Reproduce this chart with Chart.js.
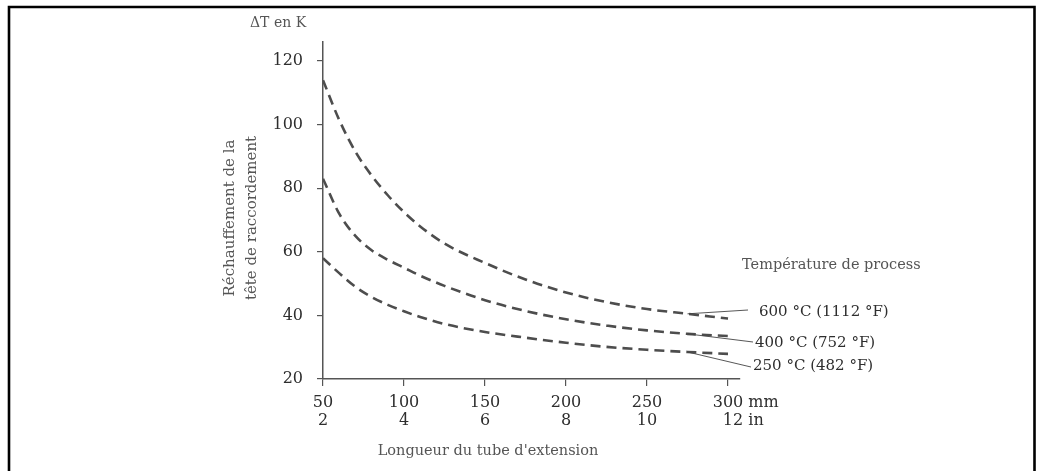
<!DOCTYPE html>
<html>
<head>
<meta charset="utf-8">
<script src="https://cdn.jsdelivr.net/npm/chart.js@4.4.1/dist/chart.umd.min.js"></script>
<style>
html,body{margin:0;padding:0;background:#fff;}
#wrap{position:relative;width:1041px;height:471px;}
</style>
</head>
<body>
<div id="wrap"><canvas id="c" width="1041" height="471"></canvas></div>
<script>
// Extension tube length (mm)
const lengthsMm = [50, 60, 70, 80, 90, 100, 110, 125, 150, 175, 200, 225, 250, 275, 300];
// Heating of the connection head (K) for each process temperature
const temp600 = [114, 101.5, 91.5, 84, 77.8, 72.5, 68, 62.6, 56.5, 51.3, 47.2, 44.2, 42, 40.5, 39];
const temp400 = [83, 72, 65, 60.5, 57.5, 55, 52.5, 49.3, 44.8, 41.4, 38.8, 36.8, 35.3, 34.2, 33.5];
const temp250 = [58, 53.3, 49, 45.8, 43.3, 41.3, 39.5, 37.3, 34.8, 33, 31.4, 30.1, 29.2, 28.5, 27.9];
const seriesLabels = ['600 °C (1112 °F)', '400 °C (752 °F)', '250 °C (482 °F)'];
// Tick labels
const xTicksMm = [50, 100, 150, 200, 250, 300];
const xTicksIn = ['2', '4', '6', '8', '10', '12'];
const yTicks = [20, 40, 60, 80, 100, 120];

const FONT = '"DejaVu Serif", serif';
const DASH_COLOR = '#4d4d4d';

function toPoints(ys) { return lengthsMm.map((x, i) => ({ x: x, y: ys[i] })); }

const annot = {
  id: 'annot',
  beforeDraw(chart) {
    const ctx = chart.ctx;
    ctx.save();
    ctx.fillStyle = '#fff';
    ctx.fillRect(0, 0, chart.width, chart.height);
    // frame
    ctx.strokeStyle = '#000';
    ctx.lineWidth = 2.6;
    ctx.beginPath();
    ctx.moveTo(9, 471);
    ctx.lineTo(9, 7);
    ctx.lineTo(1034.5, 7);
    ctx.lineTo(1034.5, 471);
    ctx.stroke();
    ctx.restore();
  },
  afterDraw(chart) {
    const ctx = chart.ctx;
    const xs = chart.scales.x, ys = chart.scales.y;
    ctx.save();
    // y title
    ctx.fillStyle = '#555';
    ctx.font = '14px ' + FONT;
    ctx.textAlign = 'left';
    ctx.textBaseline = 'middle';
    ctx.fillText('ΔT en K', 250, 23);
    ctx.save();
    ctx.translate(230, 218);
    ctx.rotate(-Math.PI / 2);
    ctx.textAlign = 'center';
    ctx.font = '15px ' + FONT;
    ctx.fillText('Réchauffement de la', 0, 0);
    ctx.fillText('tête de raccordement', 0, 22);
    ctx.restore();
    // x title
    ctx.textAlign = 'center';
    ctx.font = '14.5px ' + FONT;
    ctx.fillText("Longueur du tube d'extension", 488, 451);
    // x tick labels (two rows)
    ctx.fillStyle = '#2e2e2e';
    ctx.font = '16px ' + FONT;
    xTicksMm.forEach((v, i) => {
      const px = xs.getPixelForValue(v);
      const last = i === xTicksMm.length - 1;
      const top = String(v), bot = xTicksIn[i];
      ctx.textAlign = 'left';
      const wt = ctx.measureText(top).width, wb = ctx.measureText(bot).width;
      ctx.fillText(top + (last ? ' mm' : ''), px - wt / 2, 403);
      ctx.fillText(bot + (last ? ' in' : ''), px - wb / 2 + (last ? 5 : 0), 421);
    });
    // series labels + leader lines
    ctx.fillStyle = '#555';
    ctx.font = '14.5px ' + FONT;
    ctx.textAlign = 'left';
    ctx.fillText('Température de process', 742, 265);
    const anchorIdx = lengthsMm.indexOf(275);
    const ends = [[748, 310], [753, 342], [751, 367]];
    const vals = [temp600, temp400, temp250];
    ctx.strokeStyle = '#444';
    ctx.lineWidth = 0.9;
    vals.forEach((arr, k) => {
      const ax = xs.getPixelForValue(275), ay = ys.getPixelForValue(arr[anchorIdx]);
      ctx.beginPath();
      ctx.moveTo(ax, ay);
      ctx.lineTo(ends[k][0], ends[k][1]);
      ctx.stroke();
    });
    ctx.fillStyle = '#2e2e2e';
    ctx.font = '15px ' + FONT;
    ctx.fillText(seriesLabels[0], 759, 312);
    ctx.fillText(seriesLabels[1], 755, 343);
    ctx.fillText(seriesLabels[2], 753, 366);
    ctx.restore();
  }
};

const ds = (label, ys) => ({
  label: label,
  data: toPoints(ys),
  borderColor: DASH_COLOR,
  borderWidth: 2.6,
  borderDash: [10, 6],
  pointRadius: 0,
  fill: false,
  cubicInterpolationMode: 'monotone'
});

new Chart(document.getElementById('c'), {
  type: 'line',
  data: {
    datasets: [ds(seriesLabels[0], temp600), ds(seriesLabels[1], temp400), ds(seriesLabels[2], temp250)]
  },
  options: {
    responsive: false,
    animation: false,
    devicePixelRatio: 1,
    layout: { padding: { left: 0, top: 42, right: 301, bottom: 0 } },
    plugins: { legend: { display: false }, tooltip: { enabled: false } },
    scales: {
      x: {
        type: 'linear',
        min: 50,
        max: 307.4,
        afterBuildTicks(s) { s.ticks = xTicksMm.map(v => ({ value: v })); },
        afterFit(s) { s.height = 92; },
        ticks: { display: false },
        grid: { drawOnChartArea: false, drawTicks: true, tickLength: 7, color: '#555', lineWidth: 1.2 },
        border: { display: true, color: '#555', width: 1.5 }
      },
      y: {
        type: 'linear',
        min: 20,
        max: 126,
        afterBuildTicks(s) { s.ticks = yTicks.map(v => ({ value: v })); },
        afterFit(s) { s.width = 323; },
        ticks: { color: '#2e2e2e', padding: 14, font: { family: FONT, size: 16 } },
        grid: { drawOnChartArea: false, drawTicks: true, tickLength: 6, color: '#555', lineWidth: 1.2 },
        border: { display: true, color: '#555', width: 1.5 }
      }
    }
  },
  plugins: [annot]
});
</script>
</body>
</html>
